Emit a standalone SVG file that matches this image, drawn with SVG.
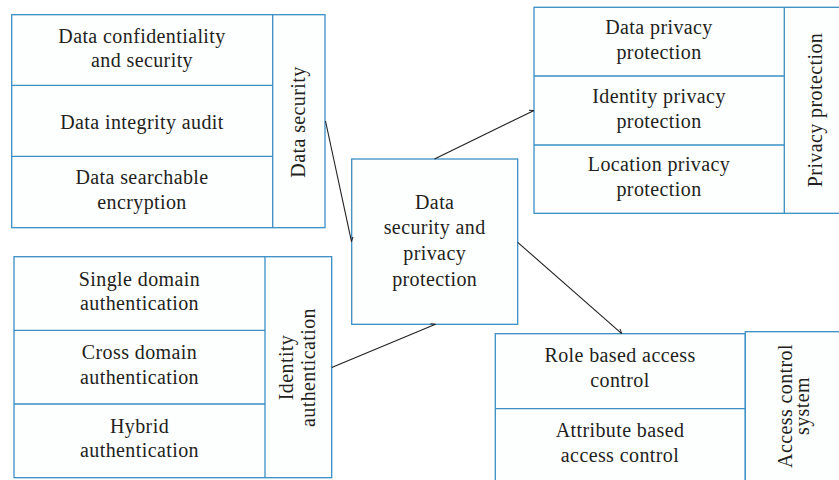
<svg xmlns="http://www.w3.org/2000/svg" width="839" height="480" viewBox="0 0 839 480">
<defs>
<style>
.box{fill:#fdfefe;stroke:#3a8fc4;stroke-width:1.3}
.div{fill:none;stroke:#3a8fc4;stroke-width:1.3}
text{font-family:"Liberation Serif","Times New Roman",serif;font-size:20px;fill:#231f20;text-anchor:middle;letter-spacing:0.4px}
.con{fill:none;stroke:#231f20;stroke-width:1.1}
</style>
<marker id="tick" viewBox="0 0 6 6" refX="5.5" refY="3" markerWidth="6" markerHeight="6" orient="auto" markerUnits="userSpaceOnUse">
<path d="M1,0.5 L5.5,3" fill="none" stroke="#231f20" stroke-width="1"/>
</marker>
</defs>
<rect width="839" height="480" fill="#ffffff"/>

<g id="data-security">
<rect class="box" x="11.7" y="14.7" width="313.3" height="213"/>
<line class="div" x1="272.7" y1="14.7" x2="272.7" y2="227.7"/>
<line class="div" x1="11.7" y1="85.3" x2="272.7" y2="85.3"/>
<line class="div" x1="11.7" y1="156.3" x2="272.7" y2="156.3"/>
<text x="142" y="42.5">Data confidentiality</text>
<text x="142" y="66.5">and security</text>
<text x="142" y="128.5">Data integrity audit</text>
<text x="142" y="184.3">Data searchable</text>
<text x="142" y="208.5">encryption</text>
<text transform="translate(305,122) rotate(-90)">Data security</text>
</g>

<g id="privacy-protection">
<rect class="box" x="534" y="7.3" width="306" height="206"/>
<line class="div" x1="784.3" y1="7.3" x2="784.3" y2="213.3"/>
<line class="div" x1="534" y1="76" x2="784.3" y2="76"/>
<line class="div" x1="534" y1="145" x2="784.3" y2="145"/>
<text x="659" y="33.5">Data privacy</text>
<text x="659" y="58.5">protection</text>
<text x="659" y="102.5">Identity privacy</text>
<text x="659" y="127.5">protection</text>
<text x="659" y="170.5">Location privacy</text>
<text x="659" y="195.5">protection</text>
<text transform="translate(822,110) rotate(-90)">Privacy protection</text>
</g>

<g id="identity-authentication">
<rect class="box" x="14" y="256.7" width="317.7" height="221"/>
<line class="div" x1="265" y1="256.7" x2="265" y2="477.7"/>
<line class="div" x1="14" y1="330.3" x2="265" y2="330.3"/>
<line class="div" x1="14" y1="404" x2="265" y2="404"/>
<text x="139.5" y="285.5">Single domain</text>
<text x="139.5" y="310">authentication</text>
<text x="139.5" y="358.5">Cross domain</text>
<text x="139.5" y="383.5">authentication</text>
<text x="139.5" y="432.5">Hybrid</text>
<text x="139.5" y="457">authentication</text>
<text transform="translate(293,367.5) rotate(-90)">Identity</text>
<text transform="translate(315,367.5) rotate(-90)">authentication</text>
</g>

<g id="access-control">
<rect class="box" x="495.3" y="333.7" width="250" height="160"/>
<rect class="box" x="745.3" y="331.7" width="100" height="160"/>
<line class="div" x1="495.3" y1="408.7" x2="745.3" y2="408.7"/>
<text x="620" y="362">Role based access</text>
<text x="620" y="387">control</text>
<text x="620" y="437">Attribute based</text>
<text x="620" y="462">access control</text>
<text transform="translate(792,406) rotate(-90)">Access control</text>
<text transform="translate(809,406) rotate(-90)">system</text>
</g>

<g id="center">
<rect class="box" x="351.7" y="159" width="166" height="165.3"/>
<text x="434.7" y="208.5">Data</text>
<text x="434.7" y="234">security and</text>
<text x="434.7" y="259.5">privacy</text>
<text x="434.7" y="285.5">protection</text>
</g>

<g id="connectors">
<line class="con" x1="325.5" y1="121" x2="351.5" y2="241.7" marker-end="url(#tick)"/>
<line class="con" x1="434.5" y1="159" x2="534" y2="110.5" marker-end="url(#tick)"/>
<line class="con" x1="331.7" y1="367.5" x2="435.5" y2="324.3" marker-end="url(#tick)"/>
<line class="con" x1="517.7" y1="242.3" x2="621.7" y2="333.7" marker-end="url(#tick)"/>
</g>
</svg>
